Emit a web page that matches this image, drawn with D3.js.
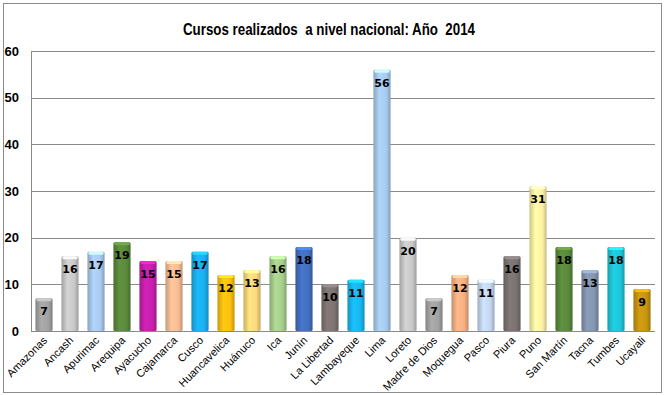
<!DOCTYPE html>
<html>
<head>
<meta charset="utf-8">
<script src="https://cdn.jsdelivr.net/npm/d3@7/dist/d3.min.js"></script>
<style>
  body { margin: 0; background: #fff; }
  .axis text { font-family: "Liberation Sans Narrow", "Liberation Sans", Arial, sans-serif; }
</style>
</head>
<body>
<div id="chart"></div>
<script>
var regions = ["Amazonas", "Ancash", "Apurimac", "Arequipa", "Ayacucho", "Cajamarca", "Cusco",
  "Huancavelica", "Huánuco", "Ica", "Junín", "La Libertad", "Lambayeque", "Lima", "Loreto",
  "Madre de Dios", "Moquegua", "Pasco", "Piura", "Puno", "San Martín", "Tacna", "Tumbes", "Ucayali"];
var cursos = [7, 16, 17, 19, 15, 15, 17, 12, 13, 16, 18, 10, 11, 56, 20, 7, 12, 11, 16, 31, 18, 13, 18, 9];
var barColors = ["#a3a3a3", "#c9c9c9", "#a8cbef", "#5b8a3c", "#c81fae", "#f9bd94", "#1ab0ee",
  "#fdc010", "#fcd97c", "#a8d08d", "#4470c2", "#7e7471", "#19b7ef", "#a8cbef", "#c9c9c9",
  "#a3a3a3", "#f8b083", "#c4d8f0", "#7b7372", "#fff1a4", "#5b8a3c", "#8496b0", "#1ec6d9", "#c8960f"];
var yTicks = [0, 10, 20, 30, 40, 50, 60];
var title = "Cursos realizados  a nivel nacional: Año  2014";

var W = 665, H = 395;
var margin = { top: 51, right: 10, bottom: 64, left: 31 },
  width = W - margin.left - margin.right,
  height = H - margin.top - margin.bottom;

var svg = d3.select("#chart").append("svg")
  .attr("width", W)
  .attr("height", H);

// outer frame
svg.append("rect")
  .attr("x", 3.5).attr("y", 3.5)
  .attr("width", W - 7).attr("height", H - 6)
  .attr("fill", "none")
  .attr("stroke", "#8c8c8c");

svg.append("text")
  .attr("x", 183)
  .attr("y", 35)
  .attr("textLength", 292)
  .attr("lengthAdjust", "spacingAndGlyphs")
  .attr("xml:space", "preserve")
  .style("font-family", "'Liberation Sans Narrow', 'Liberation Sans', Arial, sans-serif")
  .style("font-weight", "bold")
  .style("font-size", "17px")
  .style("white-space", "pre")
  .text(title);

var defs = svg.append("defs");
barColors.forEach(function (c, i) {
  var base = d3.color(c);
  var g = defs.append("linearGradient").attr("id", "grad" + i)
    .attr("x1", "0%").attr("x2", "100%").attr("y1", "0%").attr("y2", "0%");
  g.append("stop").attr("offset", "0%").attr("stop-color", base.darker(0.6));
  g.append("stop").attr("offset", "35%").attr("stop-color", base.brighter(0.15));
  g.append("stop").attr("offset", "75%").attr("stop-color", base);
  g.append("stop").attr("offset", "100%").attr("stop-color", base.darker(0.7));
});

var chart = svg.append("g")
  .attr("transform", "translate(" + margin.left + "," + margin.top + ")");

var x = d3.scaleBand().domain(regions).range([0, width]).paddingInner(0.34).paddingOuter(0.17);
var y = d3.scaleLinear().domain([0, 60]).range([height, 0]);

// gridlines
chart.append("g")
  .selectAll("line")
  .data(yTicks)
  .enter().append("line")
  .attr("x1", 0).attr("x2", width)
  .attr("y1", function (d) { return Math.round(y(d)) + 0.5; })
  .attr("y2", function (d) { return Math.round(y(d)) + 0.5; })
  .attr("stroke", "#8a8a8a")
  .attr("stroke-width", 1);

chart.append("line")
  .attr("x1", 0.5).attr("x2", 0.5)
  .attr("y1", 0).attr("y2", height)
  .attr("stroke", "#8a8a8a");

// y labels
chart.append("g")
  .selectAll("text")
  .data(yTicks)
  .enter().append("text")
  .attr("x", -12)
  .attr("y", function (d) { return y(d); })
  .attr("dy", "0.35em")
  .attr("text-anchor", "end")
  .style("font-family", "'Liberation Sans Narrow', 'Liberation Sans', Arial, sans-serif")
  .style("font-weight", "bold")
  .style("font-size", "13px")
  .text(function (d) { return d; });

// bars
var bars = chart.selectAll(".bar").data(cursos).enter().append("g").attr("class", "bar");

bars.append("rect")
  .attr("x", function (d, i) { return x(regions[i]); })
  .attr("y", function (d) { return y(d); })
  .attr("width", x.bandwidth())
  .attr("height", function (d) { return height - y(d); })
  .attr("rx", 1.5)
  .attr("fill", function (d, i) { return "url(#grad" + i + ")"; });

bars.append("rect")
  .attr("x", function (d, i) { return x(regions[i]) + 1; })
  .attr("y", function (d) { return y(d); })
  .attr("width", x.bandwidth() - 2)
  .attr("height", 3)
  .attr("rx", 1.5)
  .attr("fill", function (d, i) { return d3.color(barColors[i]).brighter(0.6); });

bars.append("text")
  .attr("x", function (d, i) { return x(regions[i]) + x.bandwidth() / 2; })
  .attr("y", function (d) { return y(d) + 17; })
  .attr("text-anchor", "middle")
  .style("font-family", "'DejaVu Sans', Verdana, sans-serif")
  .style("font-weight", "bold")
  .style("font-size", "11px")
  .text(function (d) { return d; });

// x axis
var xAxis = chart.append("g")
  .attr("class", "axis")
  .attr("transform", "translate(0," + height + ")")
  .call(d3.axisBottom(x).tickSize(0).tickPadding(0));
xAxis.select(".domain").remove();
xAxis.selectAll("text")
  .attr("text-anchor", "end")
  .attr("dy", "0")
  .attr("transform", "translate(4,10) rotate(-45)")
  .style("font-size", "11px")
  .style("fill", "#000");
</script>
</body>
</html>
